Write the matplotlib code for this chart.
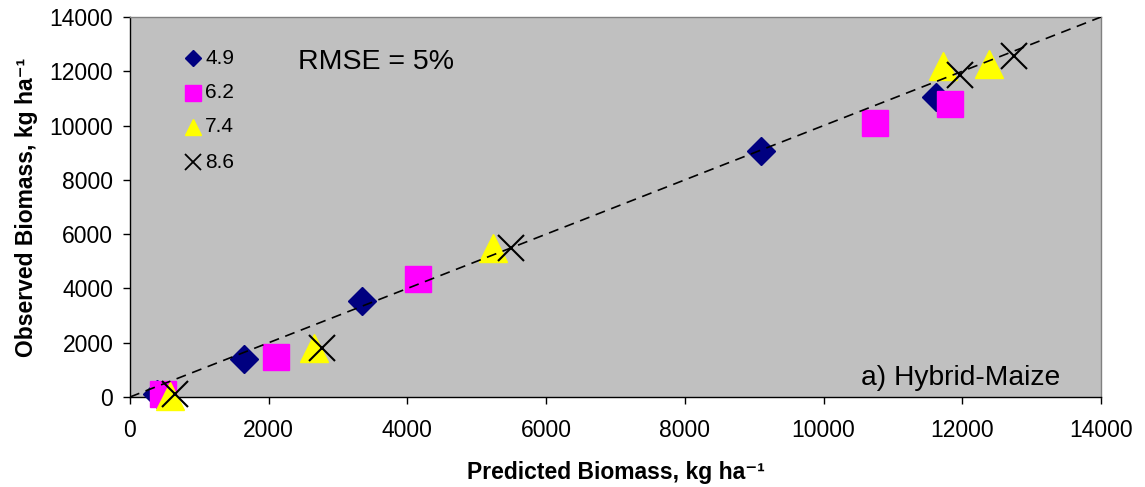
import matplotlib
matplotlib.use("Agg")
import matplotlib.pyplot as plt

plt.rcParams['font.family'] = ['Liberation Sans', 'DejaVu Sans']

# ---- data ----
series_labels = ["4.9", "6.2", "7.4", "8.6"]
pred_49 = [390, 1650, 3350, 9100, 11620]
obs_49 = [100, 1400, 3550, 9050, 11050]
pred_62 = [480, 2100, 4150, 10740, 11820]
obs_62 = [120, 1460, 4360, 10090, 10800]
pred_74 = [580, 2650, 5230, 11720, 12390]
obs_74 = [50, 1800, 5500, 12210, 12260]
pred_86 = [650, 2770, 5500, 11970, 12750]
obs_86 = [100, 1820, 5500, 11880, 12570]
line_x = [0, 14000]
line_y = [0, 14000]
ticks = [0, 2000, 4000, 6000, 8000, 10000, 12000, 14000]

styles = [
    dict(marker='D', color='#000080', ms=14, mec='#000080', ls='none'),
    dict(marker='s', color='#FF00FF', ms=19, mec='#FF00FF', ls='none'),
    dict(marker='^', color='#FFFF00', ms=20, mec='#FFFF00', ls='none'),
    dict(marker='x', color='black', ms=19, mew=1.5, ls='none'),
]
leg_styles = [
    dict(marker='D', color='#000080', ms=8, mec='#000080', ls='none'),
    dict(marker='s', color='#FF00FF', ms=11, mec='#FF00FF', ls='none'),
    dict(marker='^', color='#FFFF00', ms=12, mec='#FFFF00', ls='none'),
    dict(marker='x', color='black', ms=11, mew=1.3, ls='none'),
]

fig = plt.figure(figsize=(11.45, 4.87), dpi=100)
ax = fig.add_axes([130/1145, (487-397)/487, (1101-130)/1145, (397-17)/487])
ax.set_facecolor('#C0C0C0')

data = [(pred_49, obs_49), (pred_62, obs_62), (pred_74, obs_74), (pred_86, obs_86)]
for (px, oy), st in zip(data, styles):
    ax.plot(px, oy, clip_on=False, zorder=3, **st)

ax.plot(line_x, line_y, color='black', lw=1.2, ls=(0, (6, 4)), zorder=4)

ax.set_xlim(0, 14000)
ax.set_ylim(0, 14000)
ax.set_xticks(ticks)
ax.set_yticks(ticks)
ax.set_xticklabels([str(t) for t in ticks])
ax.set_yticklabels([str(t) for t in ticks])
ax.tick_params(axis='both', direction='out', length=5, width=1, labelsize=16.5, color='black')
ax.tick_params(axis='x', pad=11)
ax.tick_params(axis='y', pad=7)

for s in ['left', 'bottom']:
    ax.spines[s].set_color('black')
    ax.spines[s].set_linewidth(1.0)
for s in ['top', 'right']:
    ax.spines[s].set_color('#808080')
    ax.spines[s].set_linewidth(1.0)

ax.set_xlabel('Predicted Biomass, kg ha\u207B\u00B9', fontsize=16.5, fontweight='bold')
ax.set_ylabel('Observed Biomass, kg ha\u207B\u00B9', fontsize=16.5, fontweight='bold')
ax.xaxis.set_label_coords(0.5, (397-461)/380)
ax.yaxis.set_label_coords((38-130)/971, 0.5)

# legend (manual)
leg_x = (193-130)/971
text_x = (205-130)/971
row_y = [58, 93, 127, 162]
for lab, st, yy in zip(series_labels, leg_styles, row_y):
    ya = (397-yy)/380
    ax.plot([leg_x], [ya], transform=ax.transAxes, zorder=5, clip_on=False, **st)
    ax.text(text_x, ya, lab, transform=ax.transAxes, fontsize=15, va='center', ha='left')

ax.text((298-130)/971, (397-69)/380, 'RMSE = 5%', transform=ax.transAxes,
        fontsize=20.5, va='baseline', ha='left')
ax.text((1060-130)/971, (397-385)/380, 'a) Hybrid-Maize', transform=ax.transAxes,
        fontsize=20.3, va='baseline', ha='right')

fig.savefig('out.png', dpi=100)
